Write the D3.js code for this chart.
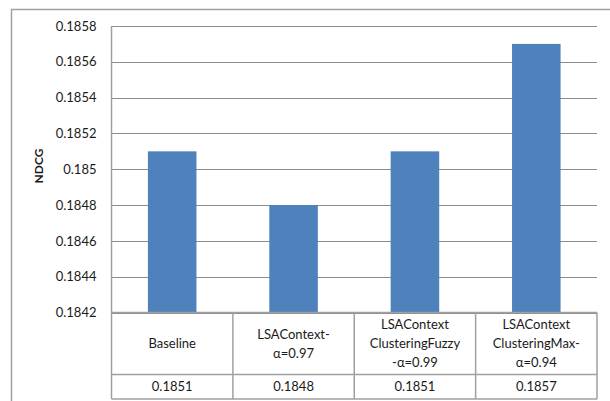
<!DOCTYPE html>
<html>
<head>
<meta charset="utf-8">
<script src="https://cdn.jsdelivr.net/npm/d3@7"></script>
<style>
  html, body { margin: 0; padding: 0; background: #fff; }
  svg { display: block; }
  text { font-family: Lato, "Open Sans", sans-serif; fill: #1a1a1a; }
</style>
</head>
<body>
<svg id="chart" width="610" height="401"></svg>
<script>
// NDCG per method
const categories = [
  ["Baseline"],
  ["LSAContext-", "α=0.97"],
  ["LSAContext", "ClusteringFuzzy", "-α=0.99"],
  ["LSAContext", "ClusteringMax-", "α=0.94"]
];
const values = [0.1851, 0.1848, 0.1851, 0.1857];
const valueLabels = ["0.1851", "0.1848", "0.1851", "0.1857"];
const yTicks = [0.1842, 0.1844, 0.1846, 0.1848, 0.185, 0.1852, 0.1854, 0.1856, 0.1858];
const yTickLabels = ["0.1842", "0.1844", "0.1846", "0.1848", "0.185", "0.1852", "0.1854", "0.1856", "0.1858"];
const yTitle = "NDCG";

const svg = d3.select("#chart");
const gridColor = "#8c8c8c";
const frameColor = "#a0a0a0";

// outer chart frame
svg.append("rect")
  .attr("x", 11.5).attr("y", 9.5)
  .attr("width", 640).attr("height", 420)
  .attr("fill", "none").attr("stroke", frameColor).attr("stroke-width", 1.5);

const plot = { left: 111.5, right: 597, top: 26, bottom: 312.5 };
const tableRow1 = 374.5, tableBottom = 399;

const x = d3.scaleBand()
  .domain(d3.range(categories.length))
  .range([plot.left, plot.right])
  .paddingInner(0).paddingOuter(0);

const y = d3.scaleLinear()
  .domain([0.1842, 0.1858])
  .range([plot.bottom, plot.top]);

// horizontal gridlines
svg.append("g")
  .selectAll("line")
  .data(yTicks)
  .join("line")
  .attr("x1", plot.left).attr("x2", plot.right)
  .attr("y1", d => Math.round(y(d)) + 0.5).attr("y2", d => Math.round(y(d)) + 0.5)
  .attr("stroke", gridColor).attr("stroke-width", 1);

// y axis labels
const yAxis = d3.axisLeft(y)
  .tickValues(yTicks)
  .tickFormat((d, i) => yTickLabels[i])
  .tickSize(0)
  .tickPadding(15);
const yg = svg.append("g")
  .attr("transform", `translate(${plot.left},0)`)
  .call(yAxis);
yg.select(".domain").remove();
yg.selectAll("text")
  .attr("font-size", 13)
  .attr("font-family", "Lato, sans-serif")
  .attr("fill", "#1a1a1a");

// bars
const barW = x.bandwidth() * 0.4;
svg.append("g")
  .selectAll("rect")
  .data(values)
  .join("rect")
  .attr("x", (d, i) => x(i) + (x.bandwidth() - barW) / 2)
  .attr("width", barW)
  .attr("y", d => y(d))
  .attr("height", d => y.range()[0] - y(d))
  .attr("fill", "#4f81bd");

// data table below the plot
const tbl = svg.append("g").attr("stroke", frameColor).attr("stroke-width", 1.5).attr("fill", "none");
tbl.append("line").attr("x1", plot.left).attr("x2", plot.right).attr("y1", plot.bottom).attr("y2", plot.bottom);
tbl.append("line").attr("x1", plot.left).attr("x2", plot.right).attr("y1", tableRow1).attr("y2", tableRow1);
tbl.append("line").attr("x1", plot.left).attr("x2", plot.right).attr("y1", tableBottom).attr("y2", tableBottom);
tbl.append("line").attr("x1", plot.left).attr("x2", plot.left).attr("y1", plot.top).attr("y2", tableBottom);
const colEdges = d3.range(1, categories.length).map(i => x(i)).concat([plot.right]);
tbl.selectAll("line.col")
  .data(colEdges)
  .join("line")
  .attr("class", "col")
  .attr("x1", d => d).attr("x2", d => d)
  .attr("y1", plot.bottom).attr("y2", tableBottom);

// category labels
const catG = svg.append("g");
categories.forEach((lines, i) => {
  const cx = x(i) + x.bandwidth() / 2;
  const mid = (plot.bottom + tableRow1) / 2;
  const lh = 19;
  const t = catG.append("text")
    .attr("text-anchor", "middle")
    .attr("font-size", 13);
  lines.forEach((ln, j) => {
    t.append("tspan")
      .attr("x", cx)
      .attr("y", mid + (j - (lines.length - 1) / 2) * lh)
      .attr("dy", "0.35em")
      .text(ln);
  });
});

// value row
svg.append("g")
  .selectAll("text")
  .data(valueLabels)
  .join("text")
  .attr("x", (d, i) => x(i) + x.bandwidth() / 2)
  .attr("y", (tableRow1 + tableBottom) / 2)
  .attr("dy", "0.35em")
  .attr("text-anchor", "middle")
  .attr("font-size", 13)
  .text(d => d);

// y axis title
svg.append("text")
  .attr("transform", `translate(43,166) rotate(-90)`)
  .attr("text-anchor", "middle")
  .attr("font-size", 12)
  .attr("font-weight", "bold")
  .text(yTitle);
</script>
</body>
</html>
